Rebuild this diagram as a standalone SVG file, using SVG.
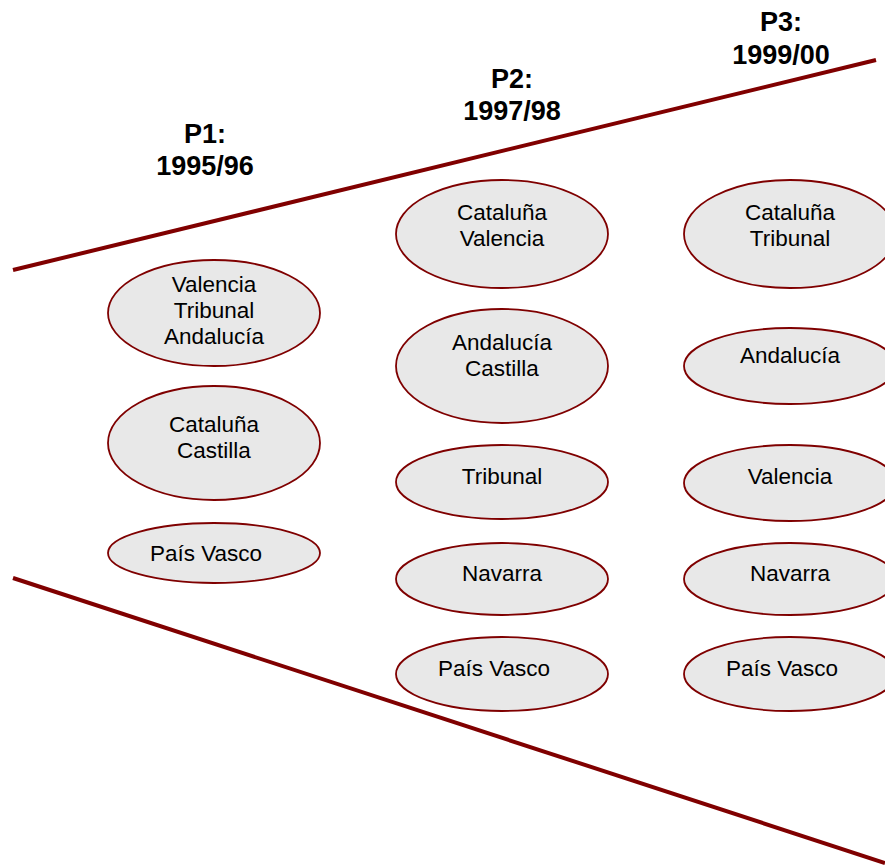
<svg xmlns="http://www.w3.org/2000/svg" width="885" height="865" viewBox="0 0 885 865">
  <style>
    .node ellipse { fill: #e8e8e8; stroke: #7f0000; stroke-width: 1.8; }
    .node text { font-family: "Liberation Sans", Arial, sans-serif; font-size: 22.5px; fill: #000; text-anchor: middle; }
    .title { font-family: "Liberation Sans", Arial, sans-serif; font-size: 27px; font-weight: bold; fill: #000; text-anchor: middle; }
    .edge { stroke: #800000; stroke-width: 4; fill: none; }
  </style>
  <rect width="885" height="865" fill="#ffffff"/>

  <!-- funnel boundaries -->
  <g id="connectors">
    <line class="edge" x1="13" y1="270" x2="876" y2="60"/>
    <line class="edge" x1="13" y1="578" x2="885" y2="863"/>
  </g>

  <!-- period headings -->
  <g id="titles">
    <text class="title" x="205" y="143">P1:</text>
    <text class="title" x="205" y="175">1995/96</text>
    <text class="title" x="512" y="88">P2:</text>
    <text class="title" x="512" y="120">1997/98</text>
    <text class="title" x="781" y="31">P3:</text>
    <text class="title" x="781" y="64">1999/00</text>
  </g>

  <!-- P1 column -->
  <g id="p1-a" class="node">
    <ellipse cx="214" cy="313" rx="106" ry="53"/>
    <text x="214" y="292">Valencia</text>
    <text x="214" y="318">Tribunal</text>
    <text x="214" y="344">Andalucía</text>
  </g>
  <g id="p1-b" class="node">
    <ellipse cx="214" cy="443" rx="106" ry="57"/>
    <text x="214" y="432">Cataluña</text>
    <text x="214" y="458">Castilla</text>
  </g>
  <g id="p1-c" class="node">
    <ellipse cx="214" cy="553" rx="106" ry="30"/>
    <text x="206" y="561">País Vasco</text>
  </g>

  <!-- P2 column -->
  <g id="p2-a" class="node">
    <ellipse cx="502" cy="234" rx="106" ry="54"/>
    <text x="502" y="220">Cataluña</text>
    <text x="502" y="246">Valencia</text>
  </g>
  <g id="p2-b" class="node">
    <ellipse cx="502" cy="366" rx="106" ry="57"/>
    <text x="502" y="350">Andalucía</text>
    <text x="502" y="376">Castilla</text>
  </g>
  <g id="p2-c" class="node">
    <ellipse cx="502" cy="482" rx="106" ry="37"/>
    <text x="502" y="484">Tribunal</text>
  </g>
  <g id="p2-d" class="node">
    <ellipse cx="502" cy="579" rx="106" ry="36"/>
    <text x="502" y="581">Navarra</text>
  </g>
  <g id="p2-e" class="node">
    <ellipse cx="502" cy="674" rx="106" ry="37"/>
    <text x="494" y="676">País Vasco</text>
  </g>

  <!-- P3 column -->
  <g id="p3-a" class="node">
    <ellipse cx="790" cy="234" rx="106" ry="54"/>
    <text x="790" y="220">Cataluña</text>
    <text x="790" y="246">Tribunal</text>
  </g>
  <g id="p3-b" class="node">
    <ellipse cx="790" cy="366" rx="106" ry="38"/>
    <text x="790" y="363">Andalucía</text>
  </g>
  <g id="p3-c" class="node">
    <ellipse cx="790" cy="483" rx="106" ry="38"/>
    <text x="790" y="484">Valencia</text>
  </g>
  <g id="p3-d" class="node">
    <ellipse cx="790" cy="579" rx="106" ry="36"/>
    <text x="790" y="581">Navarra</text>
  </g>
  <g id="p3-e" class="node">
    <ellipse cx="790" cy="674" rx="106" ry="37"/>
    <text x="782" y="676">País Vasco</text>
  </g>
</svg>
